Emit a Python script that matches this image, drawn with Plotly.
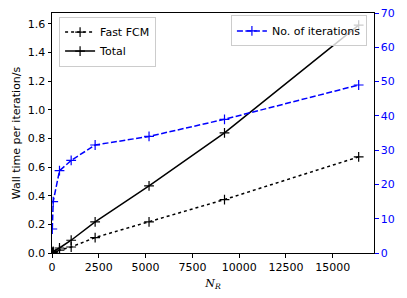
import plotly.graph_objects as go

n_r = [16, 64, 400, 1024, 2304, 5184, 9216, 16384]
fast_fcm = [0.003, 0.006, 0.02, 0.042, 0.108, 0.217, 0.373, 0.671]
total = [0.005, 0.012, 0.035, 0.089, 0.217, 0.468, 0.839, 1.59]
iterations = [7, 15, 24, 27, 31.5, 34, 39, 49]

left_ticks = [0.0, 0.2, 0.4, 0.6, 0.8, 1.0, 1.2, 1.4, 1.6]
x_ticks = [0, 2500, 5000, 7500, 10000, 12500, 15000]
right_ticks = [0, 10, 20, 30, 40, 50, 60, 70]

FONT = "DejaVu Sans"
BLUE = "#0000ff"
FS = 11

fig = go.Figure()
fig.add_trace(go.Scatter(
    x=n_r, y=fast_fcm, name="Fast FCM", mode="lines+markers",
    line=dict(color="black", width=1.5, dash="dot"),
    marker=dict(symbol="cross-thin-open", size=7, line=dict(color="black", width=1.2)),
    legend="legend"))
fig.add_trace(go.Scatter(
    x=n_r, y=total, name="Total", mode="lines+markers",
    line=dict(color="black", width=1.5),
    marker=dict(symbol="cross-thin-open", size=7, line=dict(color="black", width=1.2)),
    legend="legend"))
fig.add_trace(go.Scatter(
    x=n_r, y=iterations, name="No. of iterations", mode="lines+markers",
    line=dict(color=BLUE, width=1.5, dash="6px,2.5px"),
    marker=dict(symbol="cross-thin-open", size=7, line=dict(color=BLUE, width=1.2)),
    yaxis="y2", legend="legend2"))

fig.update_layout(
    width=407, height=298,
    margin=dict(l=52, r=33, t=13, b=45, autoexpand=False),
    paper_bgcolor="white", plot_bgcolor="white",
    font=dict(family=FONT, size=FS, color="black"),
    xaxis=dict(
        range=[0, 17203], tickvals=x_ticks, ticktext=[str(v) for v in x_ticks],
        ticks="outside", ticklen=3.5, tickwidth=1, tickcolor="black",
        showline=True, linecolor="black", linewidth=1, mirror=True,
        showgrid=False, zeroline=False, automargin=False,
        title=dict(text="<i>N</i><sub><i>R</i></sub>",
                   font=dict(family="DejaVu Serif", size=FS), standoff=6),
    ),
    yaxis=dict(
        range=[0, 1.675], tickvals=left_ticks, ticktext=[f"{v:.1f}" for v in left_ticks],
        ticks="outside", ticklen=3.5, tickwidth=1, tickcolor="black",
        showline=True, linecolor="black", linewidth=1, mirror=True,
        showgrid=False, zeroline=False, automargin=False,
        title=dict(text="Wall time per iteration/s", font=dict(size=FS), standoff=4),
    ),
    yaxis2=dict(
        range=[0, 70], tickvals=right_ticks, ticktext=[str(v) for v in right_ticks],
        overlaying="y", side="right",
        ticks="outside", ticklen=3.5, tickwidth=1, tickcolor=BLUE,
        tickfont=dict(color=BLUE, size=FS),
        showline=False, showgrid=False, zeroline=False, automargin=False,
    ),
    legend=dict(
        x=0.022, y=0.985, xanchor="left", yanchor="top",
        bgcolor="rgba(255,255,255,0.8)", bordercolor="#cccccc", borderwidth=1,
        font=dict(size=FS), tracegroupgap=0, itemwidth=30,
    ),
    legend2=dict(
        x=0.978, y=0.99, xanchor="right", yanchor="top",
        bgcolor="rgba(255,255,255,0.8)", bordercolor="#cccccc", borderwidth=1,
        font=dict(size=FS), itemwidth=30,
    ),
)

fig.write_html(
    "out.html",
    config={"displayModeBar": False},
    post_script="document.body.style.margin='0';document.body.style.overflow='hidden';",
)
